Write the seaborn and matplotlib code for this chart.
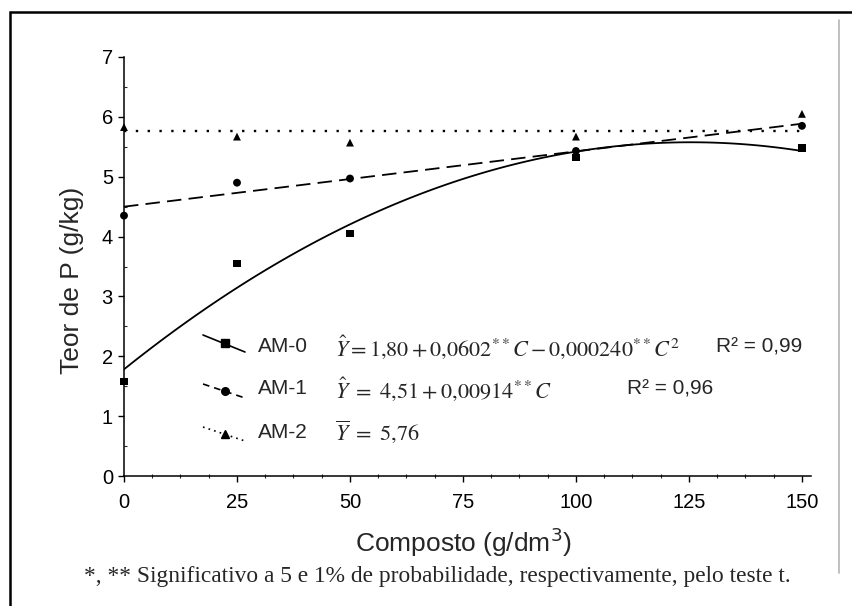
import matplotlib
matplotlib.use("Agg")
import matplotlib.pyplot as plt
import seaborn as sns
import numpy as np
import pandas as pd
from matplotlib.lines import Line2D
from matplotlib.patches import Rectangle
from matplotlib.ticker import MultipleLocator

# data
compost = [0, 25, 50, 100, 150]
am0 = [1.58, 3.55, 4.05, 5.32, 5.48]
am1 = [4.35, 4.90, 4.97, 5.43, 5.85]
am2 = [5.83, 5.67, 5.57, 5.67, 6.05]

x_ticks = [0, 25, 50, 75, 100, 125, 150]
y_ticks = [0, 1, 2, 3, 4, 5, 6, 7]

labels = ["AM-0", "AM-1", "AM-2"]
equations = [
    r"$\hat{Y} = 1{,}80 + 0{,}0602^{**}C - 0{,}000240^{**}C^2$",
    r"$\hat{Y}\ =\ 4{,}51 + 0{,}00914^{**}C$",
    r"$\overline{Y}\ =\ 5{,}76$",
]
r2_texts = ["R² = 0,99", "R² = 0,96", None]

sns.set_style("ticks")
plt.rcParams["font.family"] = ["Liberation Sans", "DejaVu Sans"]
plt.rcParams["mathtext.fontset"] = "stix"

W, H = 852, 606


def fx(px):
    return px / W


def fy(py):
    return 1 - py / H


fig = plt.figure(figsize=(W / 100, H / 100), dpi=100)
ax = fig.add_axes([fx(124), fy(476), (811 - 124) / W, (476 - 57) / H])

df = pd.DataFrame({"C": compost, "AM0": am0, "AM1": am1, "AM2": am2})

# fitted curves
sns.regplot(data=df, x="C", y="AM0", order=2, ci=None, scatter=False, color="k",
            line_kws={"lw": 1.3, "ls": "-"}, ax=ax)
sns.regplot(data=df, x="C", y="AM1", ci=None, scatter=False, color="k",
            line_kws={"lw": 1.3, "ls": (0, (8, 4))}, ax=ax)
ax.axhline(np.mean(am2), xmin=0, xmax=150 / 152, color="k", lw=1.7, ls=(0, (1, 4)))

# means
sns.scatterplot(data=df, x="C", y="AM0", marker="s", s=30, color="k", edgecolor="none",
                clip_on=False, zorder=5, ax=ax)
sns.scatterplot(data=df, x="C", y="AM1", marker="o", s=32, color="k", edgecolor="none",
                clip_on=False, zorder=5, ax=ax)
sns.scatterplot(data=df, x="C", y="AM2", marker="^", s=32, color="k", edgecolor="none",
                clip_on=False, zorder=5, ax=ax)

ax.set_xlim(0, 152)
ax.set_ylim(0, 7)
ax.set_xticks(x_ticks)
ax.set_yticks(y_ticks)
ax.xaxis.set_minor_locator(MultipleLocator(6.25))
ax.yaxis.set_minor_locator(MultipleLocator(0.5))
ax.set_xlabel("")
ax.set_ylabel("")
sns.despine(ax=ax)
for side in ["left", "bottom"]:
    ax.spines[side].set_linewidth(1.1)
    ax.spines[side].set_color("k")
ax.tick_params(axis="both", which="major", length=4, width=1, colors="k", labelsize=14.5)
ax.tick_params(axis="x", which="major", pad=8)
ax.tick_params(axis="y", which="major", pad=4)
ax.tick_params(axis="x", which="minor", length=2.5, width=0.8, direction="inout")
ax.tick_params(axis="y", which="minor", length=2.5, width=0.8, direction="in")

# axis titles
fig.text(fx(463), fy(552), "Composto (g/dm$^3$)", ha="center", va="baseline", fontsize=19,
         math_fontfamily="dejavusans")
fig.text(fx(72), fy(280), "Teor de P (g/kg)", ha="center", va="center", rotation=90,
         fontsize=19)

# legend with sloped handles
handle_styles = [("-", "s"), ((0, (4, 3)), "o"), ((0, (1, 2.5)), "^")]
handle_rows = [(335, 352, 347), (384, 398, 389), (427, 441, 432)]
r2_x = [716, 627, None]
for (ls, mk), (y1, y2, yc), lab, eq, r2, rx in zip(handle_styles, handle_rows, labels,
                                                   equations, r2_texts, r2_x):
    fig.add_artist(Line2D([fx(203), fx(245)], [fy(y1), fy(y2)], transform=fig.transFigure,
                          color="k", lw=1.2, ls=ls))
    fig.add_artist(Line2D([fx(225)], [fy((y1 + y2) / 2)], transform=fig.transFigure,
                          color="k", marker=mk, markersize=5.5, lw=0))
    fig.text(fx(258), fy(yc), lab, ha="left", va="center", fontsize=15)
    fig.text(fx(335), fy(yc), eq, ha="left", va="center", fontsize=16)
    if r2:
        fig.text(fx(rx), fy(yc), r2, ha="left", va="center", fontsize=15)

# footnote
fig.text(fx(437), fy(582), "*, ** Significativo a 5 e 1% de probabilidade, respectivamente, pelo teste t.",
         ha="center", va="baseline", fontsize=16.8, family=["Liberation Serif", "DejaVu Serif"])

# outer frame and right rule
fig.add_artist(Rectangle((fx(10), fy(700)), (900 - 10) / W, (700 - 12) / H,
                         transform=fig.transFigure, fill=False, ec="k", lw=1.8))
fig.add_artist(Line2D([fx(839), fx(839)], [fy(20), fy(573)], transform=fig.transFigure,
                      color="#b5b5b5", lw=1.2))

fig.savefig("out.png", dpi=100)
